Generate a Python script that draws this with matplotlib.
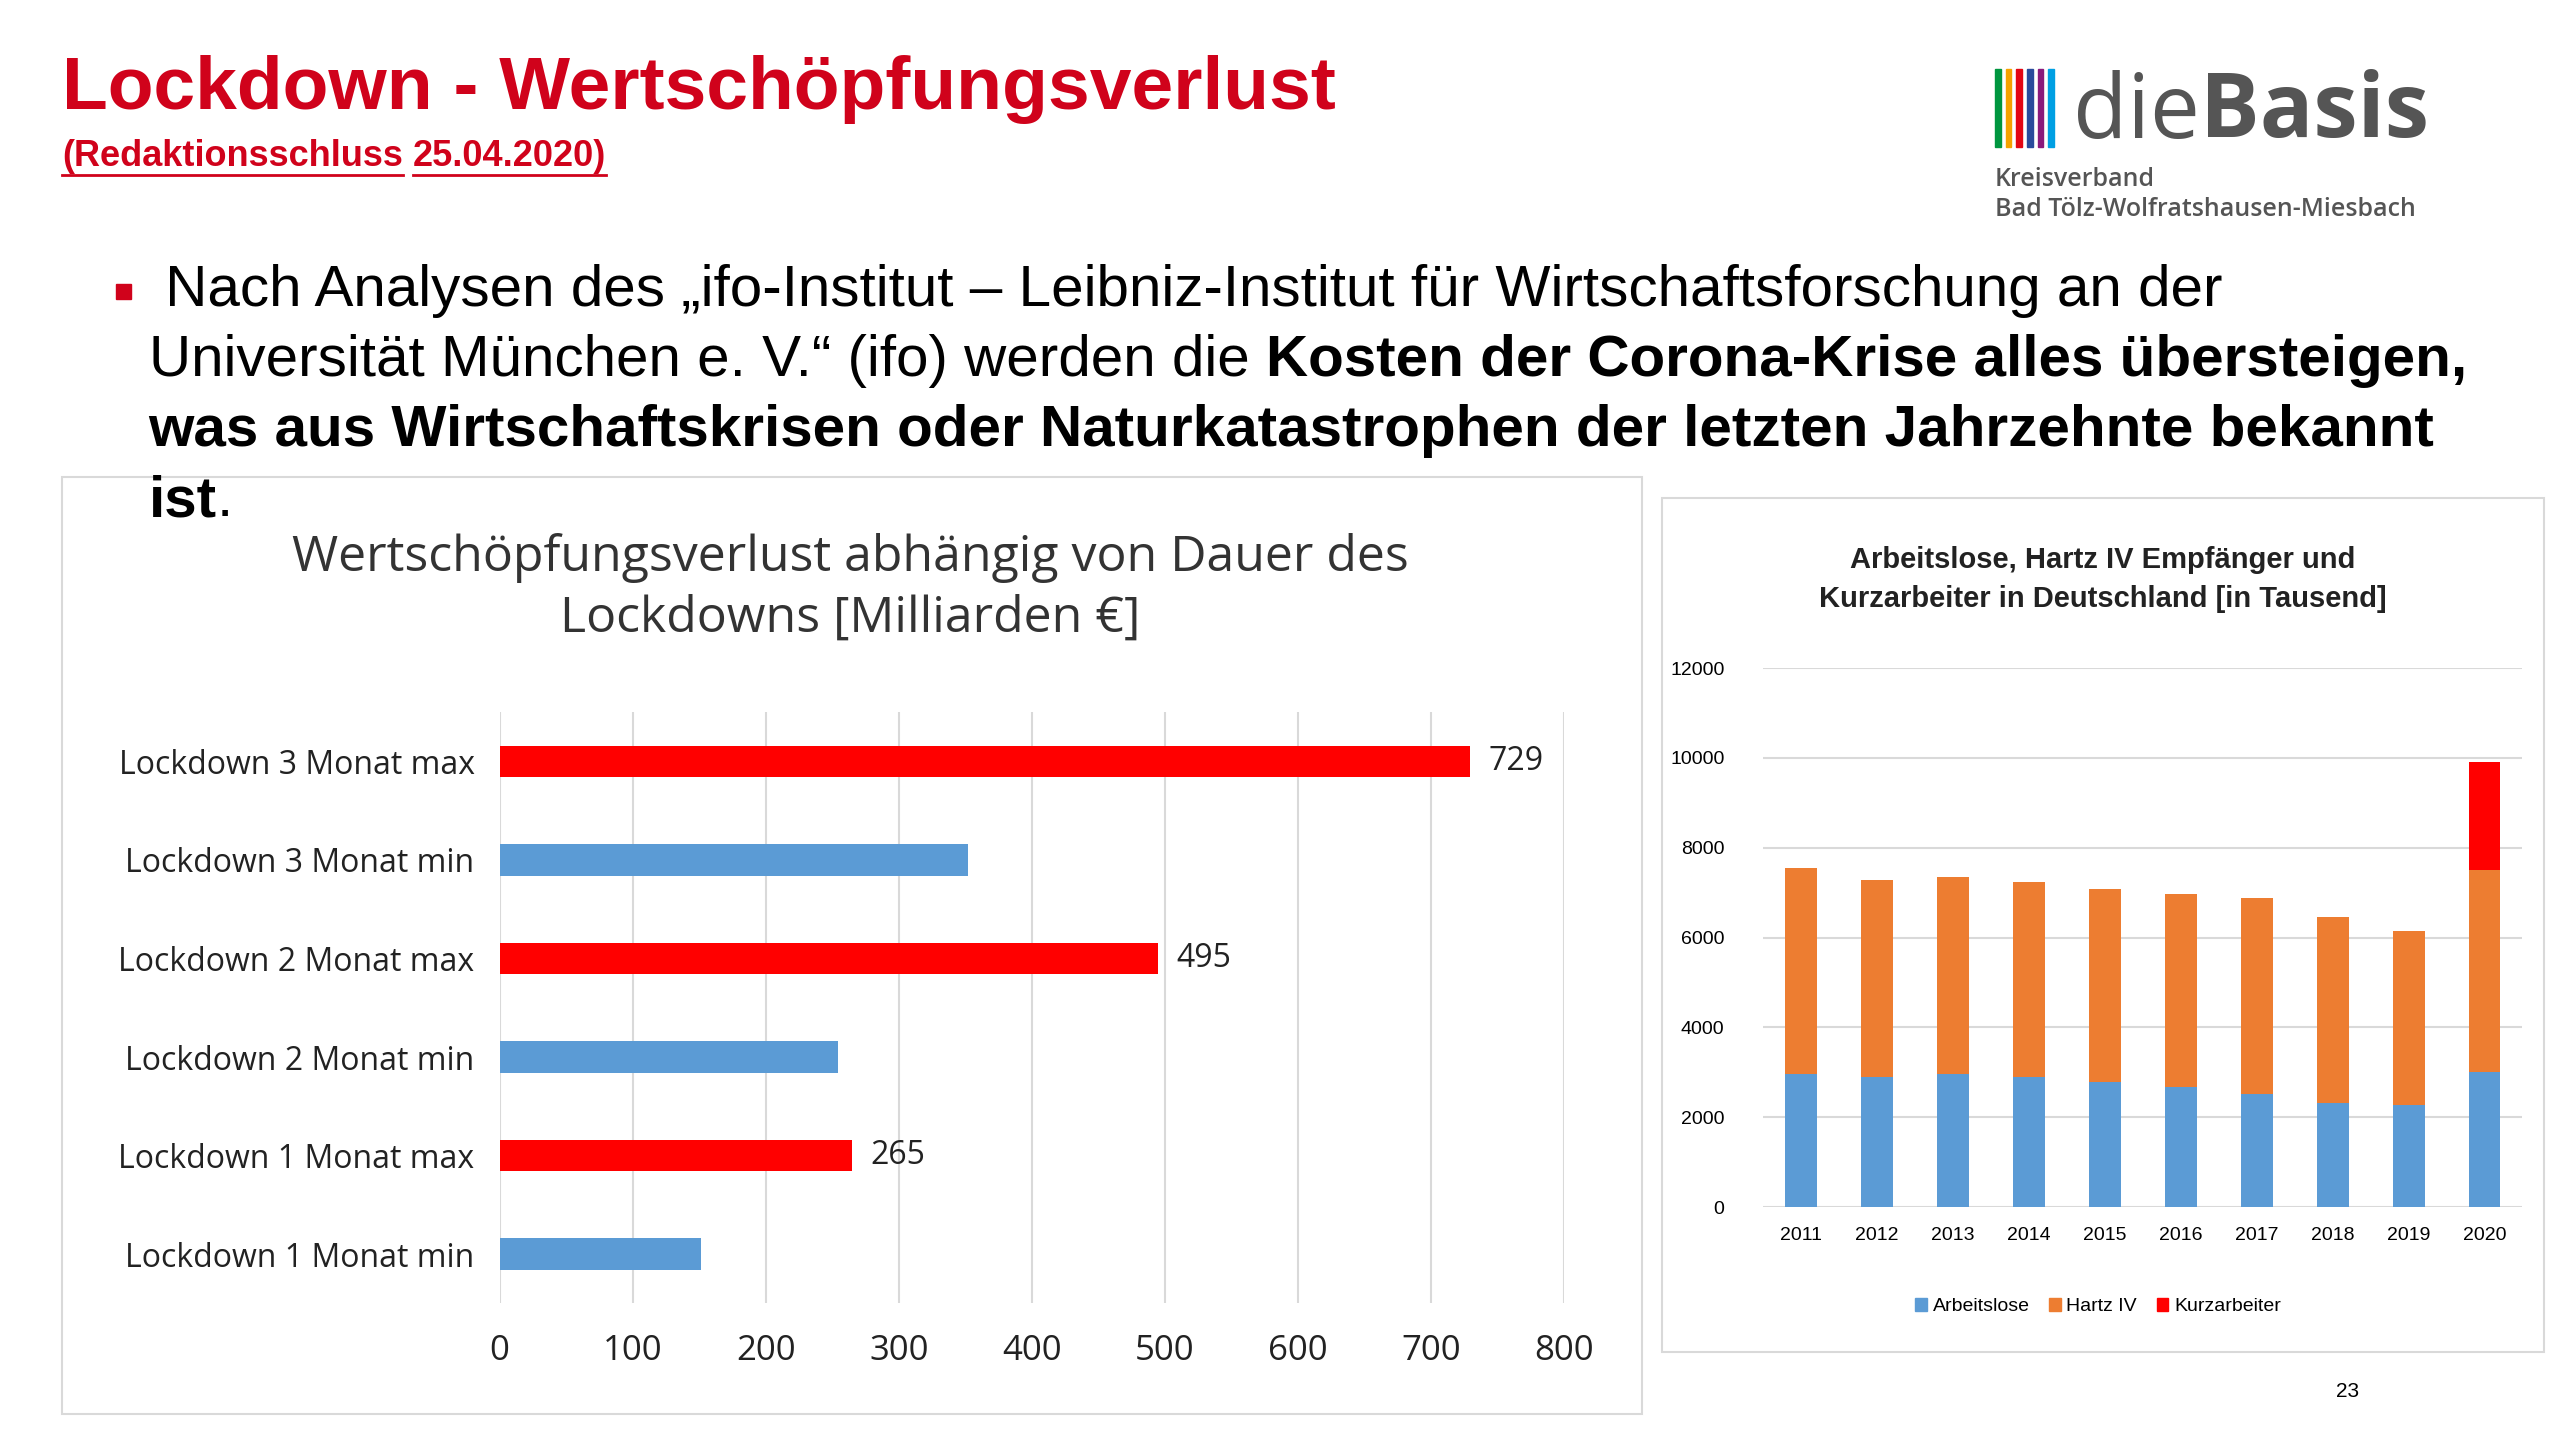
import matplotlib.pyplot as plt
from matplotlib.patches import Rectangle, Patch

# left chart data
lockdown_labels = ["Lockdown 1 Monat min", "Lockdown 1 Monat max",
                   "Lockdown 2 Monat min", "Lockdown 2 Monat max",
                   "Lockdown 3 Monat min", "Lockdown 3 Monat max"]
lockdown_values = [151, 265, 254, 495, 352, 729]
lockdown_shown = [None, 265, None, 495, None, 729]

# right chart data (in thousands)
years = ["2011", "2012", "2013", "2014", "2015", "2016", "2017", "2018", "2019", "2020"]
arbeitslose = [2956, 2896, 2956, 2896, 2793, 2682, 2528, 2314, 2262, 2999]
totals = [7549, 7292, 7344, 7241, 7078, 6975, 6872, 6452, 6135, 7498]
hartz4 = [t - a for t, a in zip(totals, arbeitslose)]
kurzarbeiter = [0, 0, 0, 0, 0, 0, 0, 0, 0, 2416]

RED = "#d0021b"
BLUE = "#5b9bd5"
ORANGE = "#ed7d31"
BARRED = "#ff0000"

W, H = 1568, 881
plt.rcParams['font.family'] = ['Liberation Sans', 'DejaVu Sans']
fig = plt.figure(figsize=(25.6, 14.39), dpi=100)
renderer = fig.canvas.get_renderer()


def fx(x):
    return x / W


def fy(y):
    return 1 - y / H


def width_of(t):
    return t.get_window_extent(renderer).width / fig.bbox.width


# header
fig.text(fx(38), fy(55), "Lockdown - Wertschöpfungsverlust", color=RED, fontsize=54,
         fontweight="bold", va="center")
x = fx(38)
for i, part in enumerate(["(Redaktionsschluss", " ", "25.04.2020)"]):
    t = fig.text(x, fy(96), part, color=RED, fontsize=26, fontweight="bold", va="center")
    w = width_of(t)
    if part != " ":
        fig.add_artist(plt.Line2D([x, x + w], [fy(107), fy(107)], color=RED, lw=2))
    x += w

# logo
logo_cols = ["#00963f", "#f5a200", "#e30613", "#2a4b9b", "#8a1a7c", "#009fe3"]
for i, c in enumerate(logo_cols):
    fig.add_artist(Rectangle((fx(1222 + i * 6.5), fy(90)), fx(3.5), 48 / H, color=c,
                             transform=fig.transFigure))
t = fig.text(fx(1270), fy(70), "die", color="#555555", fontsize=64, va="center", family="Open Sans")
fig.text(fx(1270) + width_of(t), fy(70), "Basis", color="#555555", fontsize=64, va="center",
         fontweight="bold", family="Open Sans")
fig.text(fx(1222), fy(110), "Kreisverband", color="#555555", fontsize=18, va="center",
         family="Open Sans", fontweight="semibold")
fig.text(fx(1222), fy(128), "Bad Tölz-Wolfratshausen-Miesbach", color="#555555", fontsize=18,
         va="center", family="Open Sans", fontweight="semibold")

# bullet text with mixed weights
fig.add_artist(Rectangle((fx(71), fy(183)), fx(9), 9 / H, color=RED, transform=fig.transFigure))
lines = [
    [(" Nach Analysen des \u201eifo-Institut \u2013 Leibniz-Institut für Wirtschaftsforschung an der", "normal")],
    [("Universität München e. V.\u201c (ifo) werden die ", "normal"),
     ("Kosten der Corona-Krise alles übersteigen,", "bold")],
    [("was aus Wirtschaftskrisen oder Naturkatastrophen der letzten Jahrzehnte bekannt", "bold")],
    [("ist", "bold"), (".", "normal")],
]
line_x = [91, 91, 91, 91]
line_y = [178, 221, 264, 307]
for parts, x0, y0 in zip(lines, line_x, line_y):
    x = fx(x0)
    for txt, wt in parts:
        t = fig.text(x, fy(y0), txt, fontsize=42, fontweight=wt, va="center", color="black",
                     zorder=5)
        x += width_of(t)

fig.text(fx(1438), fy(852), "23", fontsize=15, ha="center", va="center")

# chart frames
fig.add_artist(Rectangle((fx(38), fy(866)), fx(968), 574 / H, fill=False, ec="#d9d9d9",
                         lw=1.5, transform=fig.transFigure, zorder=0))
fig.add_artist(Rectangle((fx(1018), fy(828)), fx(540), 523 / H, fill=False, ec="#d9d9d9",
                         lw=1.5, transform=fig.transFigure, zorder=0))

# left chart
ax = fig.add_axes([fx(306), fy(798), fx(652), (798 - 436) / H])
colors = [BLUE if "min" in l else BARRED for l in lockdown_labels]
ax.barh(lockdown_labels, lockdown_values, height=0.32, color=colors, zorder=3)
for i, v in enumerate(lockdown_shown):
    if v is not None:
        ax.text(v + 14, i, str(v), va="center", fontsize=23, family="Open Sans", color="#222222")
ax.set_xlim(0, 800)
ax.set_ylim(-0.5, 5.5)
ax.set_xticks(range(0, 801, 100))
ax.grid(axis="x", color="#d9d9d9", lw=1.5, zorder=0)
for s in ax.spines.values():
    s.set_visible(False)
ax.tick_params(length=0, pad=18)
ax.tick_params(axis="x", labelsize=25, pad=22)
ax.tick_params(axis="y", labelsize=23)
for lbl in ax.get_xticklabels() + ax.get_yticklabels():
    lbl.set_family("Open Sans")
    lbl.set_color("#222222")
fig.text(fx(521), fy(360), "Wertschöpfungsverlust abhängig von Dauer des\nLockdowns [Milliarden €]",
         ha="center", va="center", fontsize=36, family="Open Sans", color="#333333",
         linespacing=1.3)

# right chart
ax2 = fig.add_axes([fx(1080), fy(739), fx(465), (739 - 409) / H])
x = range(len(years))
ax2.bar(x, arbeitslose, width=0.42, color=BLUE, zorder=3, label="Arbeitslose")
ax2.bar(x, hartz4, width=0.42, bottom=arbeitslose, color=ORANGE, zorder=3, label="Hartz IV")
ax2.bar(x, kurzarbeiter, width=0.42, bottom=totals, color=BARRED, zorder=3, label="Kurzarbeiter")
ax2.set_xlim(-0.5, 9.5)
ax2.set_ylim(0, 12000)
ax2.set_yticks(range(0, 12001, 2000))
ax2.set_xticks(list(x))
ax2.set_xticklabels(years)
ax2.grid(axis="y", color="#d9d9d9", lw=1.5, zorder=0)
for s in ax2.spines.values():
    s.set_visible(False)
ax2.tick_params(length=0, labelsize=14)
ax2.tick_params(axis="y", pad=28)
ax2.tick_params(axis="x", pad=14)
fig.text(fx(1288), fy(355), "Arbeitslose, Hartz IV Empfänger und\nKurzarbeiter in Deutschland [in Tausend]",
         ha="center", va="center", fontsize=21, fontweight="bold", color="#222222",
         linespacing=1.5)
handles = [Patch(color=BLUE, label="Arbeitslose"), Patch(color=ORANGE, label="Hartz IV"),
           Patch(color=BARRED, label="Kurzarbeiter")]
fig.legend(handles=handles, loc="center", bbox_to_anchor=(fx(1285), fy(800)), ncol=3,
           frameon=False, fontsize=14, handlelength=0.6, handleheight=0.6, columnspacing=1.0,
           handletextpad=0.3)

fig.savefig("out.png", dpi=100)
